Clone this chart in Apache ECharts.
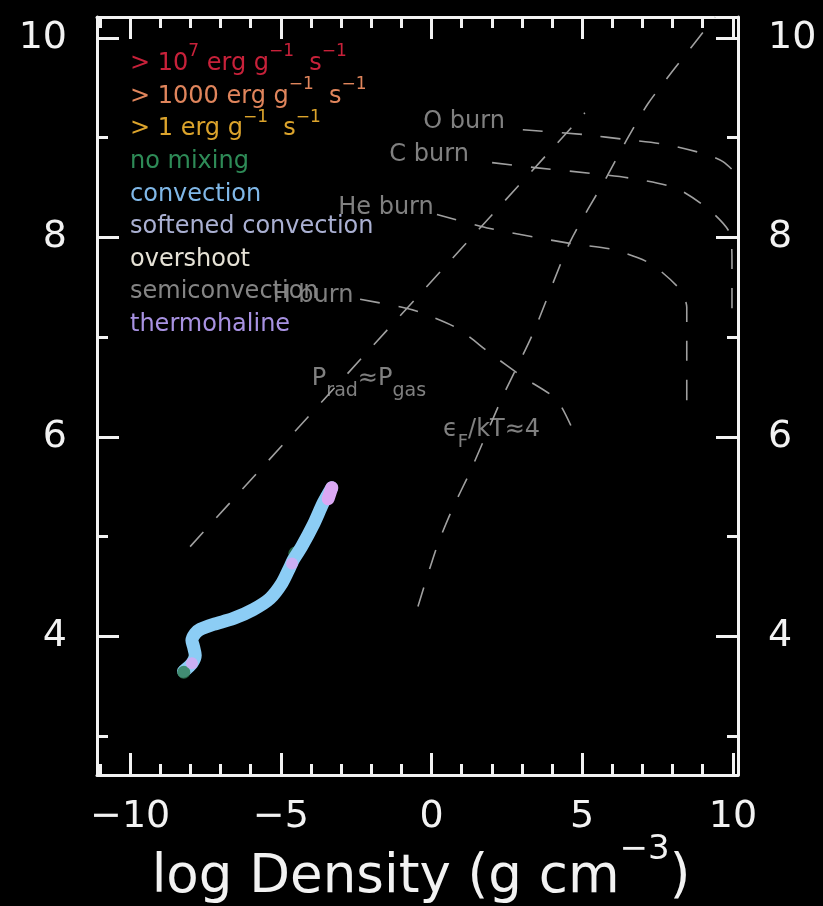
<!DOCTYPE html>
<html><head><meta charset="utf-8">
<script src="https://cdn.jsdelivr.net/npm/echarts@6/dist/echarts.min.js"></script>
<style>html,body{margin:0;padding:0;background:#000}#c{width:823px;height:906px}</style>
</head><body><div id="c"></div>
<script>
// ---- axes ----
const xRange = [-11.1, 10.17];
const yRange = [2.61, 10.21];
const xMajorTicks = [-10, -5, 0, 5, 10];
const xMinorTicks = [-11, -9, -8, -7, -6, -4, -3, -2, -1, 1, 2, 3, 4, 6, 7, 8, 9];
const yMajorTicks = [4, 6, 8, 10];
const yMinorTicks = [3, 5, 7, 9];

// ---- evolutionary track (log rho, log T) ----
const trackX = [-8.23, -7.95, -7.84, -7.90, -7.95, -7.84, -7.68, -7.24, -6.57, -5.91, -5.36, -4.97, -4.69, -4.58, -4.31, -3.92, -3.59, -3.31];
const trackY = [3.65, 3.73, 3.81, 3.90, 3.96, 4.03, 4.07, 4.12, 4.18, 4.27, 4.38, 4.53, 4.70, 4.77, 4.90, 5.12, 5.34, 5.49];
const noMixStartX = [-8.22];
const noMixStartY = [3.64];
const noMixMidX = [-4.52];
const noMixMidY = [4.83];
const thermoX = [-7.95, -4.63];
const thermoY = [3.73, 4.73];
const thermoEndX = [-3.31, -3.43];
const thermoEndY = [5.49, 5.38];

// ---- reference lines ----
const pradX = [-8.01, 5.09];
const pradY = [4.90, 9.25];
const degenX = [-0.45, 0.18, 0.71, 1.28, 2.34, 3.37, 4.59, 5.82, 6.48, 7.18, 7.98, 8.81, 9.41];
const degenY = [4.30, 4.90, 5.29, 5.65, 6.39, 7.04, 7.95, 8.61, 8.98, 9.34, 9.66, 9.98, 10.21];
const hBurnX = [-2.37, -0.98, -0.38, 0.85, 1.94, 3.03, 4.16, 4.76];
const hBurnY = [7.38, 7.30, 7.25, 7.09, 6.84, 6.60, 6.37, 6.02];
const heBurnX = [0.18, 1.94, 4.59, 5.99, 7.25, 8.24, 8.47, 8.47, 8.47];
const heBurnY = [8.23, 8.09, 7.94, 7.88, 7.74, 7.48, 7.30, 7.04, 6.25];
const cBurnX = [2.01, 3.43, 5.36, 6.68, 8.14, 9.24, 9.90, 9.97, 9.97];
const cBurnY = [8.75, 8.70, 8.64, 8.59, 8.49, 8.27, 8.04, 7.75, 7.10];
const oBurnX = [3.03, 5.09, 6.48, 7.81, 9.14, 9.67, 10.13, 10.5];
const oBurnY = [9.08, 9.03, 8.98, 8.93, 8.83, 8.76, 8.63, 8.45];

// ---- annotations ----
const burnLabels = ['O burn', 'C burn', 'He burn', 'H burn'];
const burnLabelX = [1.08, -0.08, -1.51, -3.93];
const burnLabelY = [9.16, 8.83, 8.30, 7.42];
const pradLabelPos = [-3.97, 6.58];
const degenLabelPos = [0.38, 6.07];

// ---- legend ----
const legendTexts = [
  '{m|> 10}{s|7}{m| erg g}{s|\u22121}{m|  s}{s|\u22121}',
  '{m|> 1000 erg g}{s|\u22121}{m|  s}{s|\u22121}',
  '{m|> 1 erg g}{s|\u22121}{m|  s}{s|\u22121}',
  '{m|no mixing}',
  '{m|convection}',
  '{m|softened convection}',
  '{m|overshoot}',
  '{m|semiconvection}',
  '{m|thermohaline}'
];
const legendColors = ['#c8213a', '#e0855c', '#dca42c', '#2e8b57', '#80b8e8', '#aab0d2', '#e6e2d6', '#858585', '#a892e2'];

const FONT = 'DejaVu Sans';
const refGray = '#a0a0a0';
const pairs = (xs, ys) => xs.map((x, i) => [x, ys[i]]);

const chart = echarts.init(document.getElementById('c'), null, {renderer: 'canvas'});

const axisLineStyle = {color: '#f2f2f2', width: 3};
function xAxis(pos, ticks, len, labels, showLine) {
  return {
    type: 'value', position: pos, min: xRange[0], max: xRange[1],
    axisLine: {show: showLine, onZero: false, lineStyle: axisLineStyle},
    axisTick: {show: true, inside: true, length: len, customValues: ticks, lineStyle: {color: '#f2f2f2', width: 3}},
    axisLabel: labels ? {show: true, customValues: xMajorTicks, margin: 23, color: '#f2f2f2', fontSize: 38, fontFamily: FONT,
      formatter: v => String(v).replace('-', '\u2212')} : {show: false},
    splitLine: {show: false}
  };
}
function yAxis(pos, ticks, len, labels, showLine) {
  return {
    type: 'value', position: pos, min: yRange[0], max: yRange[1],
    axisLine: {show: showLine, onZero: false, lineStyle: axisLineStyle},
    axisTick: {show: true, inside: true, length: len, customValues: ticks, lineStyle: {color: '#f2f2f2', width: 3}},
    axisLabel: labels ? {show: true, customValues: yMajorTicks, margin: 30, color: '#f2f2f2', fontSize: 38, fontFamily: FONT} : {show: false},
    splitLine: {show: false}
  };
}

function dashed(xs, ys) {
  return {
    type: 'line', data: pairs(xs, ys), showSymbol: false, symbol: 'none', smooth: 0.25, clip: true,
    lineStyle: {color: refGray, width: 1.6, type: [20, 19]}, z: 2, silent: true
  };
}

const labelBase = {color: refGray, fontFamily: FONT, fontSize: 24};

const series = [
  dashed(pradX, pradY),
  dashed(degenX, degenY),
  dashed(hBurnX, hBurnY),
  dashed(heBurnX, heBurnY),
  dashed(cBurnX, cBurnY),
  dashed(oBurnX, oBurnY),
  {
    type: 'scatter', data: pairs(noMixMidX, noMixMidY), symbolSize: 14, z: 4,
    itemStyle: {color: '#2e7d52'}
  },
  {
    type: 'line', data: pairs(trackX, trackY), showSymbol: false, symbol: 'none', smooth: 0.3, z: 5,
    lineStyle: {color: '#8ccdf5', width: 13, cap: 'round', join: 'round'}
  },
  {
    type: 'scatter', data: pairs(noMixStartX, noMixStartY), symbolSize: 13, z: 6,
    itemStyle: {color: '#2e7d52'}
  },
  {
    type: 'line', data: pairs(thermoEndX, thermoEndY), showSymbol: false, symbol: 'none', z: 7,
    lineStyle: {color: '#dba8f4', width: 13, cap: 'round'}
  },
  {
    type: 'scatter', data: pairs(thermoX, thermoY), symbolSize: 12, z: 7,
    itemStyle: {color: '#dba8f4'}
  },
  {
    type: 'scatter', symbolSize: 0, z: 8, silent: true,
    data: burnLabels.map((t, i) => ({value: [burnLabelX[i], burnLabelY[i]], name: t})),
    label: {show: true, position: 'inside', formatter: p => p.name, ...labelBase}
  },
  {
    type: 'scatter', symbolSize: 0, z: 8, silent: true,
    data: [
      {value: pradLabelPos, label: {formatter: '{m|P}{b|rad}{m|\u2248P}{b|gas}'}},
      {value: degenLabelPos, label: {formatter: '{m|\u03f5}{c|F}{m|/kT\u22484}'}}
    ],
    label: {
      show: true, position: 'right', distance: 0, ...labelBase,
      rich: {
        m: {color: refGray, fontFamily: FONT, fontSize: 24, lineHeight: 43},
        b: {color: refGray, fontFamily: FONT, fontSize: 19, lineHeight: 43, verticalAlign: 'bottom'},
        c: {color: refGray, fontFamily: FONT, fontSize: 18, lineHeight: 36, verticalAlign: 'bottom'}
      }
    }
  }
];

const graphics = legendTexts.map((t, i) => ({
  type: 'text', x: 130, y: 64 + 32.6 * i, z: 10,
  style: {
    text: t, fill: legendColors[i], fontFamily: FONT, fontSize: 24, align: 'left', verticalAlign: 'middle',
    rich: {
      m: {fill: legendColors[i], fontFamily: FONT, fontSize: 24, lineHeight: 41},
      s: {fill: legendColors[i], fontFamily: FONT, fontSize: 17, lineHeight: 41, verticalAlign: 'top'}
    }
  }
}));
graphics.push({
  type: 'text', x: 421, y: 878, z: 10,
  style: {
    text: '{m|log Density (g cm}{s|\u22123}{m|)}', fill: '#f2f2f2', fontFamily: FONT, fontSize: 53,
    align: 'center', verticalAlign: 'middle',
    rich: {
      m: {fill: '#f2f2f2', fontFamily: FONT, fontSize: 53, lineHeight: 90},
      s: {fill: '#f2f2f2', fontFamily: FONT, fontSize: 34, lineHeight: 90, verticalAlign: 'top'}
    }
  }
});

chart.setOption({
  backgroundColor: '#000000',
  animation: false,
  grid: {left: 97, right: 85, top: 17, bottom: 131, containLabel: false},
  xAxis: [
    xAxis('bottom', xMajorTicks, 22, true, true),
    xAxis('bottom', xMinorTicks, 11, false, false),
    xAxis('top', xMajorTicks, 22, false, true),
    xAxis('top', xMinorTicks, 11, false, false)
  ],
  yAxis: [
    yAxis('left', yMajorTicks, 22, true, true),
    yAxis('left', yMinorTicks, 11, false, false),
    yAxis('right', yMajorTicks, 22, true, true),
    yAxis('right', yMinorTicks, 11, false, false)
  ],
  series: series,
  graphic: graphics
});
</script>
</body></html>
